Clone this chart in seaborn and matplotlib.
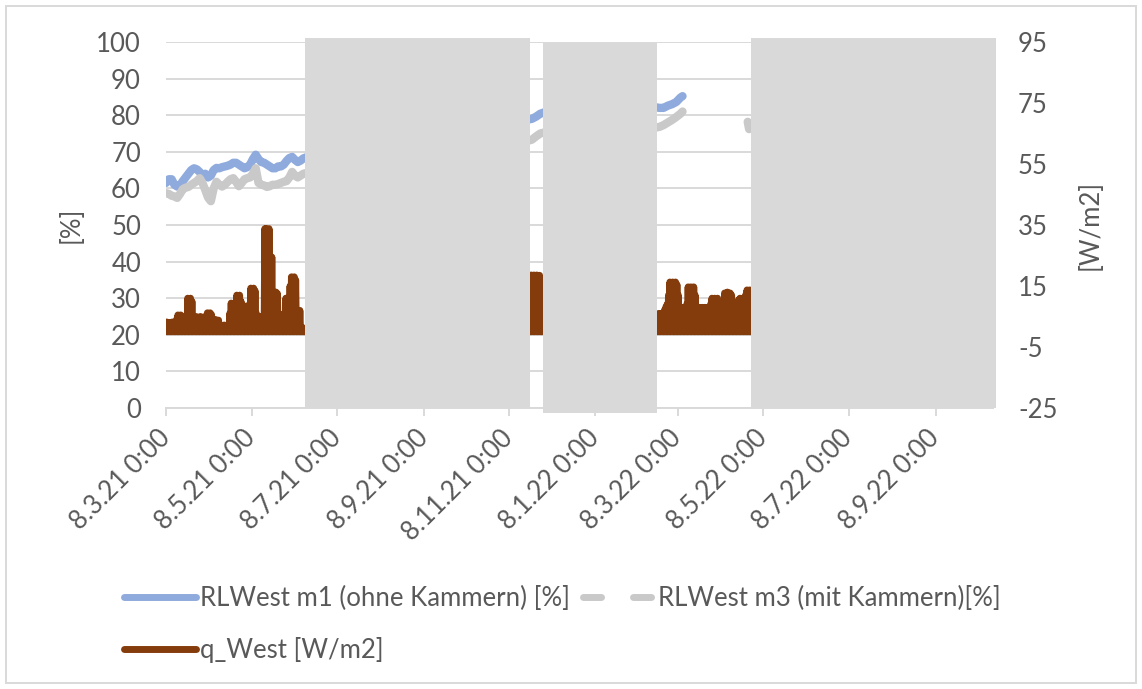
"""Relative Luftfeuchte West (m1/m3) und Wärmestrom q_West, Excel-Diagramm nachgebaut"""
import numpy as np
import pandas as pd
import matplotlib
matplotlib.use("Agg")
import matplotlib.pyplot as plt
from matplotlib.lines import Line2D
from matplotlib.patches import Rectangle
import seaborn as sns

# ---------------------------
# Daten (Tage ab 08.03.2021)
# ---------------------------
t0 = pd.Timestamp("2021-03-08")
x_max_tage = 590

# Relative Feuchte, Abschnitt A: alle 2 Tage ab Tag 0
rh_a_schritt = 2
rh_m1_a = [61.5, 62.5, 62.5, 61.0, 60.5, 60.8, 62.0, 63.0, 64.0, 65.0,
           65.5, 65.2, 64.5, 63.5, 64.0, 63.0, 63.5, 65.0, 65.6, 65.5,
           65.8, 66.0, 66.2, 66.5, 67.0, 67.0, 66.5, 66.0, 65.5, 65.8,
           66.5, 68.0, 69.2, 68.0, 67.2, 67.0, 66.5, 66.0, 65.5, 65.5,
           66.0, 66.0, 66.5, 67.5, 68.3, 68.6, 67.8, 67.2, 67.6, 68.2,
           68.5]
rh_m3_a = [58.7, 58.5, 58.0, 57.8, 57.4, 58.5, 59.8, 60.2, 60.4, 61.0,
           61.5, 62.0, 62.8, 61.5, 59.6, 57.5, 56.5, 60.0, 61.8, 61.0,
           60.5, 61.0, 61.8, 62.5, 62.8, 61.8, 60.6, 61.5, 62.5, 62.8,
           63.0, 64.0, 65.5, 61.5, 61.0, 60.8, 60.4, 60.6, 61.0, 61.0,
           61.2, 61.5, 61.8, 62.0, 63.0, 64.5, 63.5, 63.0, 63.5, 64.0,
           64.2]

# Abschnitt B
rh_b_tage = [255, 258, 261, 264, 267, 270]
rh_m1_b = [78.5, 78.8, 79.0, 79.6, 80.4, 80.8]
rh_m3_b = [72.8, 73.0, 73.3, 74.2, 75.0, 75.3]

# Abschnitt C
rh_c_tage = [346, 349, 352, 355, 358, 361, 364, 367, 368.5]
rh_m1_c = [82.0, 82.2, 82.0, 82.0, 82.6, 83.0, 83.6, 84.8, 85.2]
rh_m3_c = [76.5, 76.6, 76.8, 77.3, 78.0, 78.7, 79.5, 80.4, 81.0]

# Abschnitt D (nur m3)
rh_d_tage = [415, 416, 418]
rh_m3_d = [78.2, 76.2, 77.5]

# Wärmestrom: Tagesspitzen, nachts 0
q_nacht = 0.0
q_a_start = 0
q_spitze_a = [3.2, 2.6, 3.0, 2.8, 3.2, 2.7, 2.9, 4.0, 5.5, 5.2,
              5.5, 5.0, 3.0, 3.2, 4.5, 11.0, 10.5, 11.0, 10.0, 4.6,
              4.2, 5.0, 4.5, 3.8, 5.0, 4.4, 4.8, 4.0, 5.0, 6.2,
              5.8, 6.2, 5.6, 4.0, 3.5, 4.0, 3.4, 3.8, 2.2, 1.8,
              2.0, 2.2, 1.6, 2.0, 2.2,
              6.0, 9.4, 9.0, 9.4, 9.0, 12.0, 11.5, 12.0, 10.0, 8.4,
              8.0, 8.4, 8.0, 8.4, 9.0, 14.3, 13.8, 14.3, 13.5, 6.0,
              5.0, 4.5, 5.0, 4.2, 5.0,
              33.8, 33.8, 33.2, 33.8, 24.5, 24.5, 13.0, 12.7, 13.0, 12.5,
              5.5, 5.0, 5.5, 5.0, 6.0, 11.0, 10.5, 11.0, 15.0, 18.0,
              17.5, 18.0, 17.0, 7.0, 6.5, 7.0, 1.2, 1.0, 1.2, 0.8,
              1.0]
q_b_start = 260
q_spitze_b = [18.6, 18.0, 18.6, 18.2, 18.6, 18.0, 18.5, 10.4, 10.0, 10.4, 9.0]
q_c_start = 348
q_spitze_c = [5.0, 5.5, 5.0, 6.0, 5.5, 6.0, 5.0, 7.0, 8.0, 9.0,
              12.0, 16.3, 16.0, 16.3, 15.8, 16.3, 15.5, 12.0, 8.0, 7.5,
              8.0, 5.0, 3.9, 9.0, 14.7, 14.2, 14.7, 14.0, 14.7, 12.0,
              8.0,
              7.5, 8.0, 7.6, 8.0, 7.8, 8.0, 7.5, 8.0, 7.8,
              9.0, 11.0, 10.6, 11.0, 10.5, 11.0,
              7.0, 6.5, 7.0, 6.8,
              12.7, 12.2, 13.0, 12.5, 12.7, 12.0,
              7.0, 6.5, 7.0, 7.5,
              10.5, 11.0, 10.5, 11.0, 10.8,
              12.0, 13.7, 13.2, 13.7, 13.0, 13.5]

# verdeckte Bereiche (grau), Tage und Höhe in Achsenanteilen
abdeckung_von = [99.1, 268.8, 417.1]
abdeckung_bis = [259.5, 350.1, 591.8]
abdeckung_unten = [0.0, -0.014, 0.0]
abdeckung_oben = [1.011, 0.997, 1.011]

tick_daten = ["2021-03-08", "2021-05-08", "2021-07-08", "2021-09-08", "2021-11-08",
              "2022-01-08", "2022-03-08", "2022-05-08", "2022-07-08", "2022-09-08"]
tick_labels = ["8.3.21 0:00", "8.5.21 0:00", "8.7.21 0:00", "8.9.21 0:00", "8.11.21 0:00",
               "8.1.22 0:00", "8.3.22 0:00", "8.5.22 0:00", "8.7.22 0:00", "8.9.22 0:00"]

label_m1 = "RLWest m1 (ohne Kammern) [%]"
label_m3 = "RLWest m3 (mit Kammern)[%]"
label_q = "q_West [W/m2]"

c_m1 = "#8FAADC"
c_m3 = "#C9C9C9"
c_q = "#843C0C"
c_grid = "#D9D9D9"
c_text = "#595959"


def zeiten(tage):
    return t0 + pd.to_timedelta(np.asarray(tage, dtype=float), unit="D")


def tagesgang(start, spitzen, seg):
    """Tageswerte: 0 um Mitternacht, Spitze mittags"""
    tage, werte = [], []
    for i, s in enumerate(spitzen):
        tage += [start + i, start + i + 0.5]
        werte += [q_nacht, s]
    tage.append(start + len(spitzen))
    werte.append(q_nacht)
    return pd.DataFrame({"zeit": zeiten(tage), "wert": werte, "seg": seg})


tage_a = [i * rh_a_schritt for i in range(len(rh_m1_a))]
df_m1 = pd.concat([
    pd.DataFrame({"zeit": zeiten(tage_a), "wert": rh_m1_a, "seg": "a"}),
    pd.DataFrame({"zeit": zeiten(rh_b_tage), "wert": rh_m1_b, "seg": "b"}),
    pd.DataFrame({"zeit": zeiten(rh_c_tage), "wert": rh_m1_c, "seg": "c"}),
])
df_m3 = pd.concat([
    pd.DataFrame({"zeit": zeiten(tage_a), "wert": rh_m3_a, "seg": "a"}),
    pd.DataFrame({"zeit": zeiten(rh_b_tage), "wert": rh_m3_b, "seg": "b"}),
    pd.DataFrame({"zeit": zeiten(rh_c_tage), "wert": rh_m3_c, "seg": "c"}),
    pd.DataFrame({"zeit": zeiten(rh_d_tage), "wert": rh_m3_d, "seg": "d"}),
])
df_q = pd.concat([
    tagesgang(q_a_start, q_spitze_a, "a"),
    tagesgang(q_b_start, q_spitze_b, "b"),
    tagesgang(q_c_start, q_spitze_c, "c"),
])

# ---------------------------
# Plot
# ---------------------------
sns.set_theme(style="white")
plt.rcParams["font.family"] = ["Lato", "DejaVu Sans"]
plt.rcParams["path.simplify"] = False
plt.rcParams["axes.unicode_minus"] = False
fs = 18.5

fig = plt.figure(figsize=(11.42, 6.89), dpi=100)
ax = fig.add_axes([166 / 1142, 1 - 408 / 689, 827 / 1142, 366 / 689])
ax2 = ax.twinx()

linie = dict(estimator=None, legend=False, solid_capstyle="round", solid_joinstyle="round")
sns.lineplot(data=df_m1, x="zeit", y="wert", units="seg", color=c_m1, lw=6, ax=ax, **linie)
sns.lineplot(data=df_m3, x="zeit", y="wert", units="seg", color=c_m3, lw=6, ax=ax, **linie)
sns.lineplot(data=df_q, x="zeit", y="wert", units="seg", color=c_q, lw=5.0, ax=ax2, **linie)

for von, bis, unten, oben in zip(abdeckung_von, abdeckung_bis, abdeckung_unten, abdeckung_oben):
    ax2.axvspan(zeiten([von])[0], zeiten([bis])[0], ymin=unten, ymax=oben,
                color=c_grid, lw=0, zorder=10, clip_on=False)

ax.set_xlim(t0, t0 + pd.Timedelta(days=x_max_tage))
ax.set_ylim(0, 100)
ax.set_yticks(range(0, 101, 10))
ax2.set_ylim(-25, 95)
ax2.set_yticks(range(-25, 96, 20))

ax.set_xticks(pd.to_datetime(tick_daten))
ax.set_xticklabels(tick_labels, rotation=45, ha="right", va="center", rotation_mode="anchor")

ax.grid(axis="y", color=c_grid, lw=1.4)
ax.grid(axis="x", visible=False)
ax2.grid(False)
ax.set_axisbelow(True)
for s in ["left", "right", "top"]:
    ax.spines[s].set_visible(False)
for s in ax2.spines.values():
    s.set_visible(False)
ax.spines["bottom"].set_color(c_grid)
ax.spines["bottom"].set_linewidth(1.4)

ax.tick_params(axis="x", length=6, width=1.4, color=c_grid, pad=13, labelsize=fs, labelcolor=c_text, bottom=True)
ax.tick_params(axis="y", length=0, pad=18, labelsize=fs, labelcolor=c_text)
ax2.tick_params(axis="y", length=0, pad=18, labelsize=fs, labelcolor=c_text)

ax.set_xlabel("")
ax.set_ylabel("[%]", fontsize=fs, color=c_text)
ax.yaxis.set_label_coords(-0.10, 0.5)
ax2.set_ylabel("[W/m2]", fontsize=fs, color=c_text, rotation=90)
ax2.yaxis.set_label_coords(1.102, 0.5)

handles = [
    Line2D([], [], color=c_m1, lw=5, solid_capstyle="round"),
    Line2D([], [], color=c_q, lw=5, solid_capstyle="round"),
    Line2D([], [], color=c_m3, lw=5, dashes=(2.6, 4.6), dash_capstyle="round"),
]
fig.legend(handles, [label_m1, label_q, label_m3], loc="upper left",
           bbox_to_anchor=(124 / 1142, 1 - 586 / 689), ncol=2, frameon=False,
           fontsize=fs, labelcolor=c_text, handlelength=2.8, handletextpad=0.15,
           columnspacing=0.5, labelspacing=1.0, borderpad=0, borderaxespad=0)

fig.patches.append(Rectangle((6 / 1142, 6 / 689), 1130 / 1142, 677 / 689,
                             transform=fig.transFigure, fill=False, ec=c_grid, lw=1.4))

fig.savefig("out.png", dpi=100)
plt.close()
